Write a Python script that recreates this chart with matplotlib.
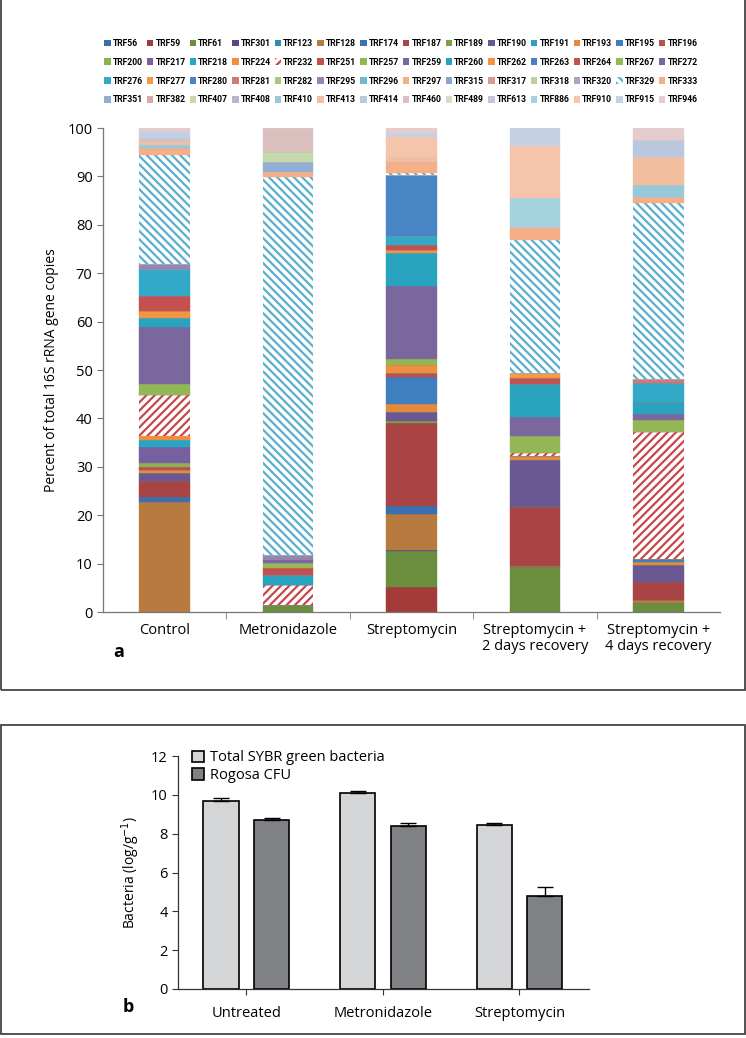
import numpy as np
import matplotlib
matplotlib.use("Agg")
import matplotlib.pyplot as plt
from matplotlib.patches import Patch, Rectangle

plt.rcParams["font.family"] = ["Open Sans", "DejaVu Sans"]
plt.rcParams["hatch.linewidth"] = 1.6

# legend order = stacking order
trf_names = [
    "TRF56", "TRF59", "TRF61", "TRF301", "TRF123", "TRF128", "TRF174", "TRF187", "TRF189", "TRF190", "TRF191", "TRF193", "TRF195", "TRF196",
    "TRF200", "TRF217", "TRF218", "TRF224", "TRF232", "TRF251", "TRF257", "TRF259", "TRF260", "TRF262", "TRF263", "TRF264", "TRF267", "TRF272",
    "TRF276", "TRF277", "TRF280", "TRF281", "TRF282", "TRF295", "TRF296", "TRF297", "TRF315", "TRF317", "TRF318", "TRF320", "TRF329", "TRF333",
    "TRF351", "TRF382", "TRF407", "TRF408", "TRF410", "TRF413", "TRF414", "TRF460", "TRF489", "TRF613", "TRF886", "TRF910", "TRF915", "TRF946",
]
trf_colors = [
    "#3C6EA6", "#A23B3A", "#6A8E3E", "#5B4683", "#2E8EAA", "#B77A3F", "#3A70AD", "#A84544", "#7E9F4A", "#6A5893", "#29A0BC", "#E38A3B", "#3F7FC0", "#BE4E4C",
    "#8CB155", "#7860A0", "#27A6C6", "#EE8F3E", "#C8474A", "#C0504D", "#93B757", "#7A679D", "#2AA3BE", "#F39441", "#4A7FC0", "#C4514F", "#94B85A", "#7B64A3",
    "#33A8C7", "#F59945", "#4A86C6", "#D07A78", "#A9C67E", "#9585B6", "#6DBBD1", "#F7AE78", "#89A6D1", "#D89896", "#BBD29B", "#AFA2C8", "#5AAFCF", "#F6AE86",
    "#93AED4", "#DDA5A4", "#C5DAA8", "#BCB3D2", "#96C9D9", "#F3BDA0", "#BAC8DF", "#DCC0C0", "#D2E0C4", "#C9C2D9", "#A5D2DF", "#F6C4AA", "#C5D1E3", "#E6CCCC",
]
hatched = {"TRF232": "////", "TRF329": "\\\\\\\\"}

groups_a = ["Control", "Metronidazole", "Streptomycin", "Streptomycin +\n2 days recovery", "Streptomycin +\n4 days recovery"]

# percent of total 16S rRNA gene copies (only non-zero TRFs listed)
control = {"TRF128": 22.7, "TRF174": 1.1, "TRF187": 3.3, "TRF190": 1.6, "TRF193": 0.6, "TRF196": 0.7,
           "TRF200": 0.8, "TRF217": 3.3, "TRF218": 1.4, "TRF224": 0.9, "TRF232": 8.4, "TRF257": 2.3,
           "TRF259": 11.8, "TRF260": 1.8, "TRF262": 1.5, "TRF264": 3.1, "TRF276": 5.6, "TRF295": 1.0,
           "TRF329": 22.5, "TRF333": 1.5, "TRF410": 0.6, "TRF413": 0.8, "TRF414": 0.6, "TRF915": 1.5,
           "TRF946": 0.6}
metronidazole = {"TRF61": 1.4, "TRF232": 4.2, "TRF260": 2.0, "TRF264": 1.5, "TRF267": 1.0, "TRF272": 0.8,
                 "TRF295": 0.9, "TRF329": 78.1, "TRF333": 1.0, "TRF351": 2.1, "TRF407": 2.0, "TRF460": 5.0}
streptomycin = {"TRF59": 5.2, "TRF61": 7.4, "TRF301": 0.2, "TRF128": 7.4, "TRF174": 1.7, "TRF187": 17.1,
                "TRF189": 0.5, "TRF190": 1.8, "TRF193": 1.7, "TRF195": 5.6, "TRF196": 0.8, "TRF224": 1.6,
                "TRF257": 1.3, "TRF259": 15.1, "TRF260": 6.8, "TRF262": 0.6, "TRF264": 1.0, "TRF276": 1.9,
                "TRF280": 12.6, "TRF329": 0.4, "TRF333": 2.3, "TRF413": 1.0, "TRF910": 4.1, "TRF915": 0.9,
                "TRF946": 1.0}
recovery_2d = {"TRF61": 9.3, "TRF128": 0.2, "TRF187": 12.2, "TRF190": 9.7, "TRF193": 0.8, "TRF232": 0.6,
               "TRF257": 3.5, "TRF259": 4.0, "TRF260": 6.8, "TRF264": 1.2, "TRF277": 1.1, "TRF329": 27.5,
               "TRF333": 2.6, "TRF886": 6.0, "TRF910": 10.8, "TRF915": 3.7}
recovery_4d = {"TRF61": 1.9, "TRF128": 0.6, "TRF187": 3.7, "TRF190": 3.5, "TRF193": 0.6, "TRF195": 0.6,
               "TRF232": 26.3, "TRF257": 2.5, "TRF259": 1.2, "TRF260": 2.5, "TRF276": 3.9, "TRF281": 0.8,
               "TRF329": 36.4, "TRF333": 1.2, "TRF410": 2.5, "TRF413": 5.8, "TRF414": 3.5, "TRF946": 2.5}

# panel b
groups_b = ["Untreated", "Metronidazole", "Streptomycin"]
sybr_total = [9.69, 10.10, 8.46]
sybr_err = [0.16, 0.09, 0.10]
rogosa_cfu = [8.70, 8.42, 4.81]
rogosa_err = [0.12, 0.12, 0.43]

fig = plt.figure(figsize=(7.46, 10.38), dpi=100)
W, H = 746, 1038

# ---------- panel a ----------
ax = fig.add_axes([103 / W, 1 - 612 / H, 617 / W, 484 / H])
bars = [control, metronidazole, streptomycin, recovery_2d, recovery_4d]
x = np.arange(len(groups_a))
bottom = np.zeros(len(bars))
handles = []
for name, col in zip(trf_names, trf_colors):
    vals = np.array([b.get(name, 0.0) for b in bars])
    if name in hatched:
        ax.bar(x, vals, 0.41, bottom=bottom, facecolor="white", edgecolor=col,
               hatch=hatched[name], linewidth=0)
        handles.append(Patch(facecolor="white", edgecolor=col, hatch=hatched[name], linewidth=0, label=name))
    else:
        ax.bar(x, vals, 0.41, bottom=bottom, color=col, edgecolor=col, linewidth=0.3)
        handles.append(Patch(facecolor=col, edgecolor="none", label=name))
    bottom += vals

ax.set_xlim(-0.5, 4.5)
ax.set_ylim(0, 100)
ax.set_yticks(np.arange(0, 101, 10))
ax.set_xticks(x)
ax.set_xticklabels(groups_a, fontsize=10.5, linespacing=1.1)
ax.set_xticks(np.arange(0.5, 4.0, 1.0), minor=True)
ax.tick_params(axis="x", which="major", length=0, pad=8)
ax.tick_params(axis="x", which="minor", length=5, color="#777777", direction="out")
ax.tick_params(axis="y", labelsize=10.5, length=4, color="#777777")
for s in ["top", "right"]:
    ax.spines[s].set_visible(False)
for s in ["left", "bottom"]:
    ax.spines[s].set_color("#777777")
    ax.spines[s].set_linewidth(0.9)
ax.set_ylabel("Percent of total 16S rRNA gene copies", fontsize=10, labelpad=6)

# legend filled row by row (matplotlib fills columns first)
ncol = 14
nrow = len(handles) // ncol
ordered = [handles[r * ncol + c] for c in range(ncol) for r in range(nrow)]
fig.legend(handles=ordered, ncol=ncol, loc="upper center", bbox_to_anchor=(401 / W, 1 - 31 / H),
           frameon=False, prop={"family": ["Roboto", "DejaVu Sans"], "weight": "bold", "size": 6.2},
           handlelength=0.75, handleheight=0.75, handletextpad=0.25, columnspacing=0.45,
           labelspacing=1.15)
fig.text(113 / W, 1 - 652 / H, "a", fontsize=13, fontweight="bold", va="center")

# ---------- panel b ----------
bx = fig.add_axes([178 / W, 1 - 989 / H, 411 / W, 233 / H])
xb = np.arange(len(groups_b))
bx.bar(xb - 0.185, sybr_total, 0.257, color="#D4D5D7", edgecolor="black", linewidth=1.2,
       label="Total SYBR green bacteria")
bx.bar(xb + 0.185, rogosa_cfu, 0.257, color="#808184", edgecolor="black", linewidth=1.2,
       label="Rogosa CFU")
bx.errorbar(xb - 0.185, sybr_total, yerr=[np.zeros(3), sybr_err], fmt="none", ecolor="black",
            elinewidth=1.0, capsize=5.5, capthick=1.0)
bx.errorbar(xb + 0.185, rogosa_cfu, yerr=[np.zeros(3), rogosa_err], fmt="none", ecolor="black",
            elinewidth=1.0, capsize=5.5, capthick=1.0)
bx.set_xlim(-0.5, 2.51)
bx.set_ylim(0, 12)
bx.set_yticks(np.arange(0, 13, 2))
bx.set_xticks(xb)
bx.set_xticklabels(groups_b, fontsize=10.5)
bx.tick_params(axis="x", length=4, pad=8, color="#333333")
bx.tick_params(axis="y", length=4, labelsize=10.5, color="#333333")
for s in ["top", "right"]:
    bx.spines[s].set_visible(False)
for s in ["left", "bottom"]:
    bx.spines[s].set_color("#333333")
    bx.spines[s].set_linewidth(0.9)
bx.set_ylabel("Bacteria (log/g$^{-1}$)", fontsize=10, labelpad=6)
bx.legend(loc="upper left", bbox_to_anchor=(0.02, 1.05), frameon=False, fontsize=10.5,
          handlelength=0.8, handleheight=0.8, handletextpad=0.4, labelspacing=0.2, borderaxespad=0)
fig.text(123 / W, 1 - 1007 / H, "b", fontsize=13, fontweight="bold", va="center")

# panel frames
fig.add_artist(Rectangle((1 / W, 1 - 690 / H), 744 / W, 700 / H, transform=fig.transFigure,
                         fill=False, edgecolor="#444444", linewidth=1.3))
fig.add_artist(Rectangle((1 / W, 1 - 1034 / H), 744 / W, 309 / H, transform=fig.transFigure,
                         fill=False, edgecolor="#444444", linewidth=1.3))

fig.savefig("out.png", dpi=100)
